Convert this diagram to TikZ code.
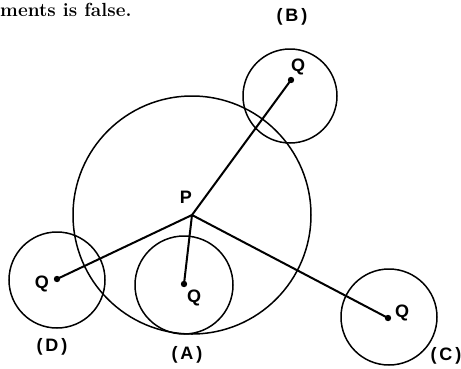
\documentclass[tikz,border=0pt]{standalone}
\usepackage{fontspec}
\setsansfont{Liberation Sans}
\usetikzlibrary{calc}
\newcommand{\qdot}[2]{% filled centre dot at (#1), named #2
  \fill (#1) circle (3.2pt) coordinate (#2);
}
\tikzset{
  ring/.style={line width=1.5pt},
  spoke/.style={line width=2pt},
  lbl/.style={font=\sffamily\bfseries\fontsize{18}{18}\selectfont, inner sep=0pt}
}

\begin{document}
\begin{tikzpicture}[x=1pt,y=-1pt]
  \useasboundingbox (0,0) rectangle (461,368);
  \node[anchor=base west, inner sep=0pt, font=\bfseries\fontsize{19}{19}\selectfont] (head) at (0,16) {ments is false.};
  % the big circle about P and the four small ones
  \coordinate (P) at (192,215);
  \draw[ring] (P) circle (119pt);
  \draw[ring] (290,96) circle (47pt);
  \draw[ring] (184,285) circle (49pt);
  \draw[ring] (389,317) circle (48pt);
  \draw[ring] (57,280) circle (48pt);
  \qdot{291,80}{qb} \qdot{184,284}{qa} \qdot{388,318}{qc} \qdot{57,279}{qd}
  \draw[spoke] (P) -- (qb);
  \draw[spoke] (P) -- (qa);
  \draw[spoke] (P) -- (qc);
  \draw[spoke] (P) -- (qd);
  \node[lbl] (lp) at (186,197) {P};
  \node[lbl] (lqb) at (298,67) {Q};
  \node[lbl] (lqa) at (194,298) {Q};
  \node[lbl] (lqc) at (402,313) {Q};
  \node[lbl] (lqd) at (42,284) {Q};
  \node[lbl] (nb) at (292,17) {(\,B\,)};
  \node[lbl] (na) at (187,355) {(\,A\,)};
  \node[lbl] (nc) at (446,356) {(\,C\,)};
  \node[lbl] (nd) at (52,347) {(\,D\,)};
\end{tikzpicture}
\end{document}
